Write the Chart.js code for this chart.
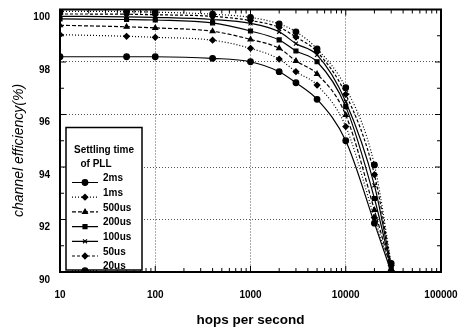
<!DOCTYPE html>
<html>
<head>
<meta charset="utf-8">
<script src="https://cdn.jsdelivr.net/npm/chart.js@4.4.1/dist/chart.umd.min.js"></script>
<style>
  html, body { margin: 0; padding: 0; background: #fff; }
  #wrap { width: 461px; height: 329px; }
</style>
</head>
<body>
<div id="wrap"><canvas id="chart" width="461" height="329"></canvas></div>
<script>
// x values (hops per second) and efficiency (%) per PLL settling time
const hopsPerSecond = [10, 50, 100, 400, 1000, 2000, 3000, 5000, 10000, 20000, 30000];
const eff2ms   = [98.20, 98.20, 98.20, 98.14, 98.01, 97.63, 97.21, 96.58, 95.00, 91.86, 90.00];
const eff1ms   = [99.04, 98.98, 98.94, 98.83, 98.52, 98.11, 97.63, 97.12, 95.54, 92.07, 90.05];
const eff500us = [99.40, 99.34, 99.30, 99.17, 98.86, 98.52, 98.04, 97.54, 95.98, 92.36, 90.10];
const eff200us = [99.64, 99.62, 99.60, 99.49, 99.18, 98.84, 98.42, 98.01, 96.30, 92.80, 90.15];
const eff100us = [99.74, 99.72, 99.70, 99.62, 99.47, 99.15, 98.70, 98.27, 96.49, 93.30, 90.20];
const eff50us  = [99.83, 99.82, 99.80, 99.74, 99.58, 99.32, 98.95, 98.39, 96.77, 93.71, 90.25];
const eff20us  = [99.93, 99.92, 99.90, 99.82, 99.70, 99.45, 99.15, 98.50, 97.02, 94.08, 90.33];
const seriesNames = ['2ms', '1ms', '500us', '200us', '100us', '50us', '20us'];
const xTicks = [10, 100, 1000, 10000, 100000];

const FONT = '"Liberation Sans", Arial, Helvetica, sans-serif';
Chart.defaults.font.family = FONT;
Chart.defaults.color = '#000';

const styles = [
  { dash: [],     point: 'circle' },
  { dash: [1, 2], point: 'rectRot' },
  { dash: [4, 2], point: 'triangle' },
  { dash: [],     point: 'rect' },
  { dash: [],     point: 'crossRot' },
  { dash: [3, 2], point: 'rectRot' },
  { dash: [1, 2], point: 'circle' }
];
const allSeries = [eff2ms, eff1ms, eff500us, eff200us, eff100us, eff50us, eff20us];

const datasets = allSeries.map((vals, i) => ({
  label: seriesNames[i],
  data: vals.map((v, j) => ({ x: hopsPerSecond[j], y: v })),
  borderColor: '#000',
  backgroundColor: '#000',
  borderWidth: 1.2,
  borderDash: styles[i].dash,
  pointStyle: styles[i].point,
  pointRadius: 2.8,
  pointBorderWidth: 1.2,
  cubicInterpolationMode: 'monotone',
  fill: false
}));

// frame + inward tick marks
const frameTicks = {
  id: 'frameTicks',
  afterDatasetsDraw(chart) {
    const { ctx, chartArea: a, scales } = chart;
    ctx.save();
    ctx.strokeStyle = '#000';
    ctx.lineWidth = 1;
    ctx.beginPath();
    for (let d = 10; d < 100000; d *= 10) {
      for (let k = 1; k <= 9; k++) {
        const px = scales.x.getPixelForValue(d * k);
        const len = k === 1 ? 6 : 4;
        ctx.moveTo(px, a.bottom); ctx.lineTo(px, a.bottom - len);
        ctx.moveTo(px, a.top); ctx.lineTo(px, a.top + len);
      }
    }
    for (let v = 91; v < 100; v++) {
      const py = scales.y.getPixelForValue(v);
      const len = v % 2 === 0 ? 6 : 4;
      ctx.moveTo(a.left, py); ctx.lineTo(a.left + len, py);
      ctx.moveTo(a.right, py); ctx.lineTo(a.right - len, py);
    }
    ctx.stroke();
    ctx.lineWidth = 2;
    ctx.strokeRect(a.left, a.top, a.right - a.left, a.bottom - a.top);
    ctx.restore();
  }
};

// legend box inside the plot
const legendBox = {
  id: 'legendBox',
  afterDraw(chart) {
    const { ctx, chartArea: a } = chart;
    const x0 = a.left + 6, y0 = a.top + 118, w = 76, h = a.bottom - y0 - 2;
    ctx.save();
    ctx.fillStyle = '#fff';
    ctx.fillRect(x0, y0, w, h);
    ctx.strokeStyle = '#000';
    ctx.lineWidth = 1.5;
    ctx.strokeRect(x0, y0, w, h);
    ctx.beginPath();
    ctx.rect(x0, y0, w, h + 2);
    ctx.clip();
    ctx.fillStyle = '#000';
    ctx.font = 'bold 10px ' + FONT;
    ctx.textBaseline = 'middle';
    ctx.textAlign = 'center';
    ctx.fillText('Settling time', x0 + w / 2, y0 + 23);
    ctx.fillText('of PLL', x0 + 30, y0 + 37);
    ctx.textAlign = 'left';
    chart.data.datasets.forEach((ds, i) => {
      const y = y0 + 51 + i * 14.7;
      ctx.lineWidth = ds.borderWidth;
      ctx.setLineDash(ds.borderDash);
      ctx.beginPath();
      ctx.moveTo(x0 + 6, y + 4);
      ctx.lineTo(x0 + 32, y + 4);
      ctx.stroke();
      ctx.setLineDash([]);
      Chart.helpers.drawPoint(ctx, { pointStyle: ds.pointStyle, radius: ds.pointRadius, borderWidth: 1.2, rotation: 0 }, x0 + 19, y + 4);
      ctx.fillText(ds.label, x0 + 37, y);
    });
    ctx.restore();
  }
};

const noScalePadding = s => {
  s.paddingTop = 0; s.paddingBottom = 0; s.paddingLeft = 0; s.paddingRight = 0;
};

new Chart(document.getElementById('chart'), {
  type: 'line',
  data: { datasets },
  options: {
    responsive: false,
    animation: false,
    layout: { padding: { top: 9.5, right: 20, left: 0, bottom: 0 } },
    plugins: { legend: { display: false }, tooltip: { enabled: false } },
    scales: {
      x: {
        type: 'logarithmic',
        min: 10,
        max: 100000,
        afterBuildTicks: axis => { axis.ticks = xTicks.map(v => ({ value: v })); },
        afterFit: s => { s.height = 57; noScalePadding(s); },
        grid: { color: '#555', lineWidth: 1, drawTicks: false },
        border: { display: false, dash: [1, 2] },
        ticks: {
          padding: 17,
          maxRotation: 0,
          autoSkip: false,
          font: { size: 10, weight: 'bold' },
          callback: v => String(v)
        },
        title: {
          display: true,
          text: 'hops per second',
          font: { size: 13.5, weight: 'bold' },
          padding: { top: 0, bottom: 1 }
        }
      },
      y: {
        min: 90,
        max: 100,
        afterFit: s => { s.width = 60; noScalePadding(s); },
        grid: { color: '#555', lineWidth: 1, drawTicks: false },
        border: { display: false, dash: [1, 2] },
        ticks: {
          stepSize: 2,
          padding: 10,
          labelOffset: 8,
          font: { size: 10, weight: 'bold' },
          callback: v => String(v)
        },
        title: {
          display: true,
          text: 'channel efficiency(%)     ',
          font: { size: 14, style: 'italic' },
          padding: { top: 11, bottom: 0 }
        }
      }
    }
  },
  plugins: [frameTicks, legendBox]
});
</script>
</body>
</html>
